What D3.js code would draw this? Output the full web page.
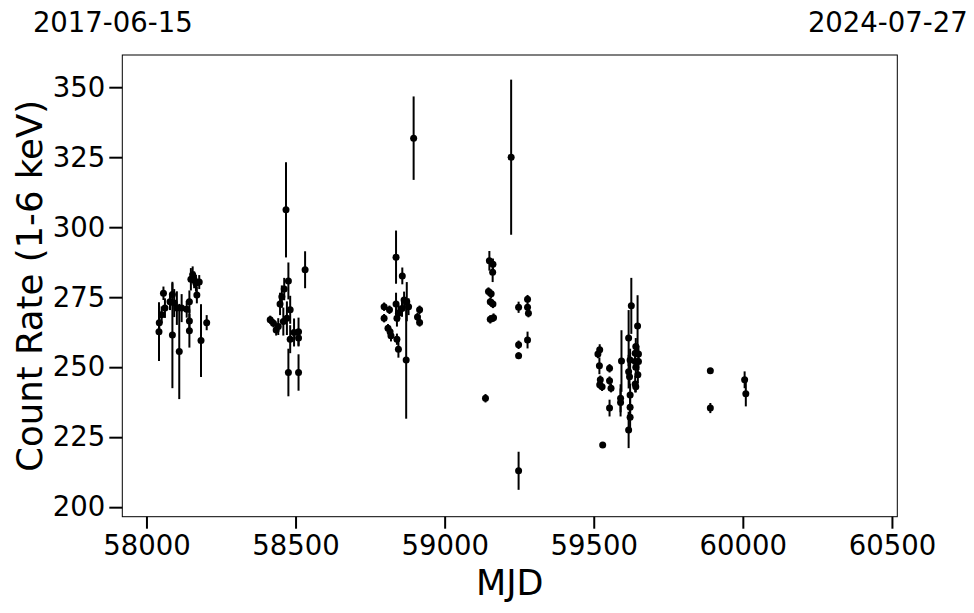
<!DOCTYPE html>
<html>
<head>
<meta charset="utf-8">
<script src="https://cdn.jsdelivr.net/npm/d3@7"></script>
<style>
  html, body { margin: 0; padding: 0; background: #fff; }
  svg { display: block; }
  text { font-family: "DejaVu Sans", sans-serif; fill: #000; }
</style>
</head>
<body>
<svg id="chart" width="974" height="613"></svg>
<script>
// ---- data ----
const mjd = [
  58042,58043,58051,58057,58062,58079,58087,58087,58093,58102,58110,58118,58135,58144,58144,58144,58149,58155,58160,58166,58169,58177,58183,58202,
  58415,58426,58435,58442,58448,58454,58459,58462,58468,58471,58476,58476,58482,58482,58495,58510,58510,58510,58532,
  58797,58797,58810,58815,58817,58820,58837,58837,58840,58840,58845,58845,58857,58858,58864,58871,58873,58879,58896,58909,58916,58916,
  59137,59147,59150,59153,59153,59156,59161,59162,59162,59164,59223,59248,59248,59248,59248,59278,59278,59278,59281,
  59514,59519,59520,59520,59522,59528,59530,59553,59553,59553,59558,59590,59590,59593,59617,59617,59617,59620,59622,59622,59622,59622,59626,59639,59639,59639,59641,59641,59641,59647,59648,59650,59650,
  59891,59891,60006,60010
];
const rate = [
  262.7,265.9,268.7,276.4,271.1,273.4,276.0,261.5,272.9,271.1,255.6,271.1,270.7,273.4,266.5,263.0,281.4,283.0,281.2,280.0,275.8,280.4,259.5,265.9,
  266.9,265.7,263.3,264.5,272.6,275.2,266.3,277.9,306.2,267.5,280.8,248.1,270.5,260.0,262.4,262.7,260.4,248.1,284.8,
  271.6,267.5,263.9,270.5,262.7,261.2,289.3,272.6,260.0,267.5,269.3,256.4,271.0,282.6,274.0,252.6,273.4,271.6,331.8,267.9,270.5,266.0,
  238.9,277.0,288.0,273.4,267.1,276.2,283.9,286.8,272.6,267.7,325.0,271.4,258.0,254.1,213.0,274.3,271.4,259.7,269.3,
  254.7,250.5,256.2,243.7,245.5,243.0,222.2,249.6,245.2,235.4,242.5,238.9,237.4,252.2,260.4,248.4,227.6,246.6,252.6,240.1,235.7,232.1,271.9,255.0,252.0,244.0,257.4,250.0,243.0,264.7,247.3,254.7,252.0,
  248.7,235.4,245.5,240.5
];
const rateErr = [
  10.5,4,3,2.4,3.5,3,4,19,5,6,17,5,3,4,4,6,4,3,3,3,3,2.5,13,2.7,
  1.5,1.5,2,3,4,4,5,4,17,6,6.6,8.5,5,5,5,5,3,6.5,6.6,
  1.5,1.5,1.5,1.5,1.5,2,9.5,4,2,3,3,3,3,3,3,21,7,3,14.9,1.5,1.5,1.5,
  1.5,1.5,3.5,1.5,1.5,1.5,3.5,2,1.5,1.5,27.7,2,1.5,1.2,6.8,1.5,1.5,3,1.5,
  1.5,3,2,1.5,1.5,1.5,1,1.5,1.5,3,1.5,5,5,11,10,6,6.5,4,4,4,4,4,10,3,3,3,3,3,2,11,3,3,3,
  0.8,1.8,3,4.5
];
const xTicks = [58000, 58500, 59000, 59500, 60000, 60500];
const yTicks = [200, 225, 250, 275, 300, 325, 350];
const xDomain = [57919, 60518];
const yDomain = [196.6, 361.5];
const dateLabels = ["2017-06-15", "2024-07-27"];

// ---- layout ----
const svg = d3.select("#chart");
const L = 122.3, R = 897.3, T = 55, B = 516.7;

const x = d3.scaleLinear().domain(xDomain).range([L, R]);
const y = d3.scaleLinear().domain(yDomain).range([B, T]);

const pts = mjd.map((m, i) => ({ m, r: rate[i], e: rateErr[i] }));

// error bars
svg.append("g").selectAll("line").data(pts).join("line")
  .attr("x1", d => x(d.m)).attr("x2", d => x(d.m))
  .attr("y1", d => y(d.r - d.e)).attr("y2", d => y(d.r + d.e))
  .attr("stroke", "#000").attr("stroke-width", 2);

// points
svg.append("g").selectAll("circle").data(pts).join("circle")
  .attr("cx", d => x(d.m)).attr("cy", d => y(d.r))
  .attr("r", 3.5).attr("fill", "#000");

// frame
svg.append("rect").attr("x", L).attr("y", T).attr("width", R - L).attr("height", B - T)
  .attr("fill", "none").attr("stroke", "#000").attr("stroke-width", 1);

// x axis
const xAxis = d3.axisBottom(x).tickValues(xTicks).tickFormat(d3.format("d"))
  .tickSize(12).tickPadding(7);
const gx = svg.append("g").attr("transform", `translate(0,${B})`).call(xAxis);
gx.select(".domain").remove();
gx.selectAll(".tick line").attr("stroke", "#000").attr("stroke-width", 2);
gx.selectAll(".tick text").attr("font-size", "27.5px").attr("font-family", "DejaVu Sans").attr("fill", "#000");

// y axis
const yAxis = d3.axisLeft(y).tickValues(yTicks).tickFormat(d3.format("d"))
  .tickSize(13).tickPadding(4);
const gy = svg.append("g").attr("transform", `translate(${L},0)`).call(yAxis);
gy.select(".domain").remove();
gy.selectAll(".tick line").attr("stroke", "#000").attr("stroke-width", 2);
gy.selectAll(".tick text").attr("font-size", "27.5px").attr("font-family", "DejaVu Sans").attr("fill", "#000");

// axis labels
svg.append("text").attr("x", (L + R) / 2).attr("y", 595)
  .attr("text-anchor", "middle").attr("font-size", "35px").text("MJD");
svg.append("text").attr("transform", `translate(42,${(T + B) / 2}) rotate(-90)`)
  .attr("text-anchor", "middle").attr("font-size", "35.5px").text("Count Rate (1-6 keV)");

// date labels at the ends of the x range
svg.append("g").selectAll("text").data(dateLabels).join("text")
  .attr("x", (d, i) => (i === 0 ? x(xDomain[0]) : x(xDomain[1])) - 9.5)
  .attr("y", 32).attr("text-anchor", "middle").attr("font-size", "27.5px")
  .text(d => d);
</script>
</body>
</html>
